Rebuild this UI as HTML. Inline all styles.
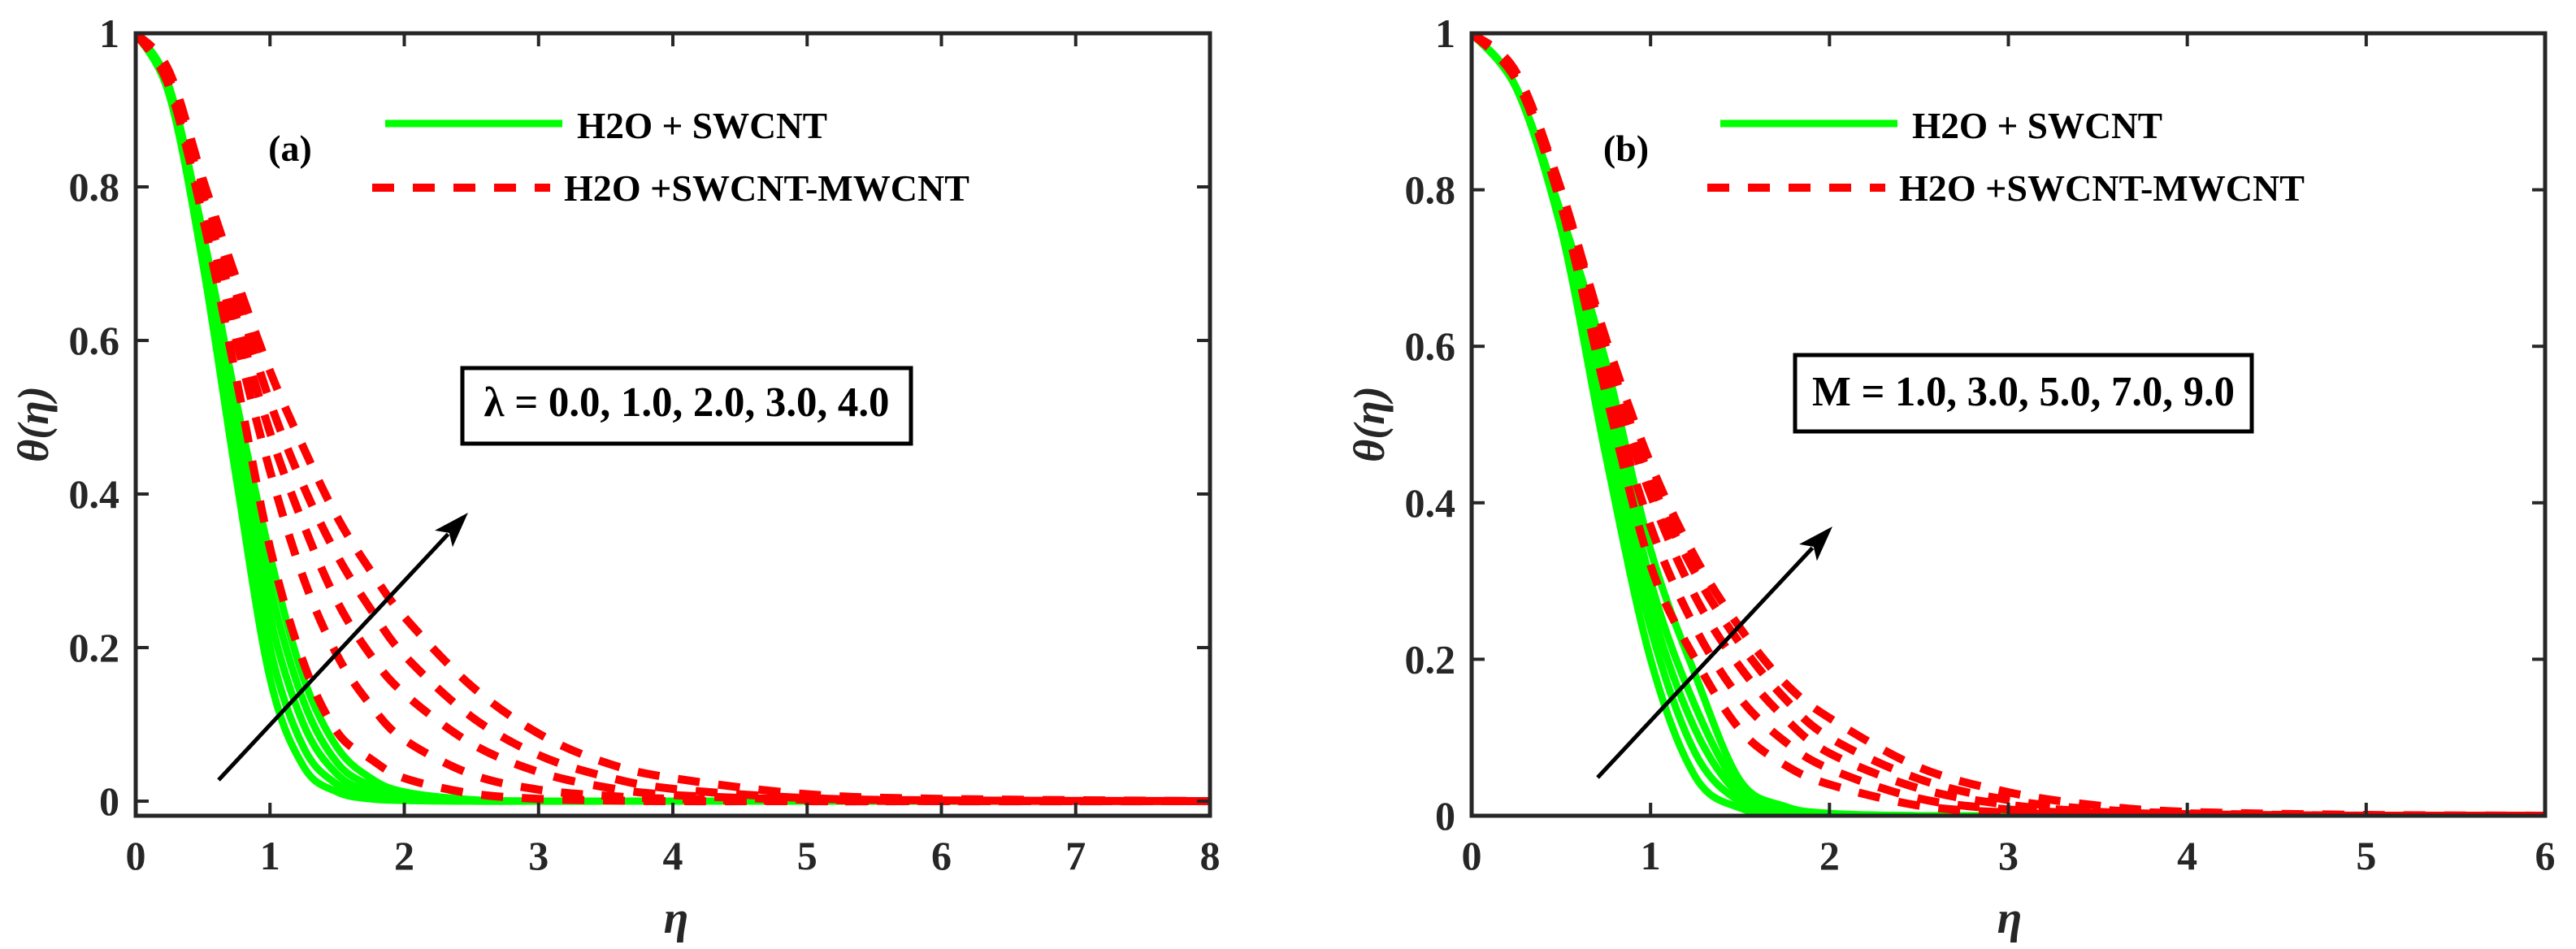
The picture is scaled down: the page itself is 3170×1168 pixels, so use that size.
<!DOCTYPE html>
<html><head><meta charset="utf-8"><style>
html,body{margin:0;padding:0;background:#fff;}
svg{display:block;}
text{font-family:"Liberation Serif","Times New Roman",Times,serif;font-weight:bold;fill:#262626;}
</style></head><body>
<svg id="fig" width="3170" height="1168" viewBox="0 0 3170 1168" xmlns="http://www.w3.org/2000/svg">
<defs>
<clipPath id="clipA"><rect x="167" y="41" width="1322" height="963"/></clipPath>
<clipPath id="clipB"><rect x="1811" y="41" width="1321" height="963"/></clipPath>
</defs>
</svg>
<script>
// ---------- data ----------
const etaGridA = [0,0.25,0.5,0.75,1,1.25,1.5,1.75,2,2.5,3,3.5,4,5,6,8];
const lambdaValues = ["0.0","1.0","2.0","3.0","4.0"];
const greenA0 = [1,0.92,0.70,0.42,0.16,0.045,0.012,0.003,0.001,0,0,0,0,0,0,0];
const greenA1 = [1,0.92,0.71,0.45,0.20,0.07,0.022,0.007,0.002,0,0,0,0,0,0,0];
const greenA2 = [1,0.93,0.72,0.47,0.24,0.10,0.035,0.012,0.004,0.001,0,0,0,0,0,0];
const greenA3 = [1,0.93,0.73,0.50,0.28,0.13,0.05,0.02,0.007,0.001,0,0,0,0,0,0];
const greenA4 = [1,0.93,0.74,0.52,0.32,0.16,0.07,0.03,0.012,0.002,0,0,0,0,0,0];
const redA0 = [1,0.93,0.76,0.55,0.33,0.18,0.09,0.055,0.03,0.01,0.003,0.001,0,0,0,0];
const redA1 = [1,0.94,0.78,0.60,0.43,0.29,0.19,0.125,0.08,0.035,0.015,0.007,0.003,0,0,0];
const redA2 = [1,0.94,0.79,0.63,0.48,0.36,0.26,0.19,0.14,0.075,0.038,0.018,0.008,0.002,0,0];
const redA3 = [1,0.95,0.80,0.66,0.52,0.41,0.32,0.25,0.19,0.11,0.06,0.032,0.016,0.004,0.001,0];
const redA4 = [1,0.95,0.81,0.68,0.56,0.46,0.37,0.30,0.24,0.15,0.088,0.05,0.03,0.009,0.003,0];

const etaGridB = [0,0.25,0.5,0.75,1,1.25,1.5,1.75,2,2.5,3,3.5,4,5,6];
const mValues = ["1.0","3.0","5.0","7.0","9.0"];
const greenB0 = [1,0.93,0.75,0.46,0.20,0.05,0.01,0.002,0,0,0,0,0,0,0];
const greenB1 = [1,0.93,0.75,0.49,0.24,0.08,0.018,0.004,0.001,0,0,0,0,0,0];
const greenB2 = [1,0.93,0.76,0.52,0.27,0.11,0.026,0.006,0.002,0,0,0,0,0,0];
const greenB3 = [1,0.93,0.76,0.55,0.30,0.14,0.035,0.009,0.002,0,0,0,0,0,0];
const greenB4 = [1,0.93,0.77,0.58,0.34,0.18,0.045,0.012,0.003,0,0,0,0,0,0];
const redB0 = [1,0.94,0.78,0.54,0.32,0.20,0.11,0.065,0.04,0.013,0.004,0.001,0,0,0];
const redB1 = [1,0.94,0.79,0.56,0.37,0.24,0.15,0.095,0.06,0.022,0.008,0.003,0.001,0,0];
const redB2 = [1,0.94,0.79,0.58,0.41,0.28,0.19,0.125,0.08,0.035,0.014,0.005,0.002,0,0];
const redB3 = [1,0.94,0.80,0.60,0.43,0.31,0.22,0.15,0.10,0.047,0.02,0.008,0.003,0,0];
const redB4 = [1,0.95,0.80,0.61,0.45,0.33,0.24,0.17,0.125,0.062,0.03,0.013,0.005,0.001,0];

const xTicksA = [0,1,2,3,4,5,6,7,8];
const xTicksB = [0,1,2,3,4,5,6];
const yTicks = [0,0.2,0.4,0.6,0.8,1];
const yTickLabels = ["0","0.2","0.4","0.6","0.8","1"];

// ---------- helpers ----------
const NS = "http://www.w3.org/2000/svg";
const svg = document.getElementById("fig");
function mk(tag, attrs, parent){
  const e = document.createElementNS(NS, tag);
  for (const k in attrs) e.setAttribute(k, attrs[k]);
  (parent||svg).appendChild(e);
  return e;
}
function smoothPath(pts){
  let d = "M" + pts[0][0].toFixed(1) + "," + pts[0][1].toFixed(1);
  for (let i=0;i<pts.length-1;i++){
    const p0 = pts[Math.max(0,i-1)], p1 = pts[i], p2 = pts[i+1], p3 = pts[Math.min(pts.length-1,i+2)];
    const c1x = p1[0]+(p2[0]-p0[0])/6, c1y = p1[1]+(p2[1]-p0[1])/6;
    const c2x = p2[0]-(p3[0]-p1[0])/6, c2y = p2[1]-(p3[1]-p1[1])/6;
    d += " C"+c1x.toFixed(1)+","+c1y.toFixed(1)+" "+c2x.toFixed(1)+","+c2y.toFixed(1)+" "+p2[0].toFixed(1)+","+p2[1].toFixed(1);
  }
  return d;
}

function panel(cfg){
  const L = cfg.left, R = cfg.right, T = 41, B = 1004;
  const xs = v => L + (v - cfg.xmin)/(cfg.xmax - cfg.xmin)*(R-L);
  const ys = v => B - (v - cfg.ymin)/(cfg.ymax - cfg.ymin)*(B-T);
  const g = mk("g", {});
  
  

  const plot = mk("g", {"clip-path": "url(#"+cfg.clip+")"}, g);
  
  
  cfg.green.forEach((arr, i) => {
    const p = mk("path", {d: smoothPath(cfg.grid.map((e,j)=>[xs(e), ys(arr[j])])), fill:"none", stroke:"#00ff00", "stroke-width":9, "stroke-linejoin":"round"}, plot);
    
    
  });
  cfg.red.forEach((arr, i) => {
    const p = mk("path", {d: smoothPath(cfg.grid.map((e,j)=>[xs(e), ys(arr[j])])), fill:"none", stroke:"#ff0000", "stroke-width":10, "stroke-dasharray":"27 23"}, plot);
    
    
  });

  const box = mk("rect", {x:L, y:T, width:R-L, height:B-T, fill:"none", stroke:"#262626", "stroke-width":5}, g);
  
  

  cfg.xticks.forEach(t => {
    const x = xs(t);
    mk("line", {x1:x, y1:B, x2:x, y2:B-16, stroke:"#262626", "stroke-width":4}, g);
    mk("line", {x1:x, y1:T, x2:x, y2:T+16, stroke:"#262626", "stroke-width":4}, g);
    const tx = mk("text", {x:x, y:1070, "text-anchor":"middle", "font-size":50}, g);
    tx.textContent = String(t);
    
    
  });
  yTicks.forEach((t, i) => {
    const y = ys(t);
    mk("line", {x1:L, y1:y, x2:L+16, y2:y, stroke:"#262626", "stroke-width":4}, g);
    mk("line", {x1:R, y1:y, x2:R-16, y2:y, stroke:"#262626", "stroke-width":4}, g);
    const tx = mk("text", {x:L-20, y:y+17, "text-anchor":"end", "font-size":50}, g);
    tx.textContent = yTickLabels[i];
    
    
  });

  const xt = mk("text", {x:cfg.etaX, y:1148, "text-anchor":"middle", "font-size":56, "font-style":"italic"}, g);
  xt.textContent = "η";
  
  
  const yt = mk("text", {x:0, y:0, "text-anchor":"middle", "font-size":54, "font-style":"italic", transform:"translate("+(L-108)+",522) rotate(-90)"}, g);
  yt.textContent = "θ(η)";
  
  

  const pl = mk("text", {x:cfg.labelX, y:198, "text-anchor":"middle", "font-size":46, style:"fill:#000"}, g);
  pl.textContent = cfg.label;
  
  

  const lg = mk("g", {}, g);
  
  
  const l1 = mk("line", {x1:cfg.leg1[0], y1:152, x2:cfg.leg1[1], y2:152, stroke:"#00ff00", "stroke-width":9}, lg);
  
  
  const t1 = mk("text", {x:cfg.leg1[2], y:170, "font-size":46, textLength:308, lengthAdjust:"spacingAndGlyphs", style:"fill:#000"}, lg);
  t1.textContent = "H2O + SWCNT";
  
  
  const l2 = mk("line", {x1:cfg.leg2[0], y1:231, x2:cfg.leg2[1], y2:231, stroke:"#ff0000", "stroke-width":10, "stroke-dasharray":"27 23"}, lg);
  
  
  const t2 = mk("text", {x:cfg.leg2[2], y:247, "font-size":46, textLength:499, lengthAdjust:"spacingAndGlyphs", style:"fill:#000"}, lg);
  t2.textContent = "H2O +SWCNT-MWCNT";
  
  

  const bx = mk("rect", {x:cfg.box[0], y:cfg.box[1], width:cfg.box[2], height:cfg.box[3], fill:"#fff", stroke:"#000", "stroke-width":5}, g);
  
  
  const bt = mk("text", {x:cfg.box[0]+cfg.box[2]/2, y:cfg.boxBase, "text-anchor":"middle", "font-size":52, textLength:cfg.boxTextLen, lengthAdjust:"spacingAndGlyphs", style:"fill:#000"}, g);
  bt.textContent = cfg.boxText;
  
  

  const [x1,y1,x2,y2] = cfg.arrow;
  const ang = Math.atan2(y2-y1, x2-x1), hl = 44, hw = 15;
  const bxp = x2 - hl*Math.cos(ang), byp = y2 - hl*Math.sin(ang);
  const ar = mk("g", {}, g);
  
  
  mk("line", {x1:x1, y1:y1, x2:bxp+8*Math.cos(ang), y2:byp+8*Math.sin(ang), stroke:"#000", "stroke-width":5}, ar);
  const px = -Math.sin(ang), py = Math.cos(ang);
  mk("polygon", {points: x2+","+y2+" "+(bxp+hw*px)+","+(byp+hw*py)+" "+(bxp+10*Math.cos(ang))+","+(byp+10*Math.sin(ang))+" "+(bxp-hw*px)+","+(byp-hw*py), fill:"#000"}, ar);
}

panel({name:"panel-a-lambda", left:167, right:1489, xmin:0, xmax:8, ymin:-0.019, ymax:1, clip:"clipA",
  grid:etaGridA, green:[greenA0,greenA1,greenA2,greenA3,greenA4], red:[redA0,redA1,redA2,redA3,redA4],
  paramName:"lambda", params:lambdaValues, xticks:xTicksA, etaX:832, label:"(a)", labelX:357,
  leg1:[474,692,710], leg2:[458,677,694], box:[569,453,552,93], boxBase:512, boxTextLen:499,
  boxText:"λ = 0.0, 1.0, 2.0, 3.0, 4.0", arrow:[269,960,576,631]});
panel({name:"panel-b-magnetic", left:1811, right:3132, xmin:0, xmax:6, ymin:0, ymax:1, clip:"clipB",
  grid:etaGridB, green:[greenB0,greenB1,greenB2,greenB3,greenB4], red:[redB0,redB1,redB2,redB3,redB4],
  paramName:"m", params:mValues, xticks:xTicksB, etaX:2473, label:"(b)", labelX:2001,
  leg1:[2117,2335,2353], leg2:[2101,2320,2337], box:[2209,437,562,94], boxBase:499, boxTextLen:520,
  boxText:"M = 1.0, 3.0, 5.0, 7.0, 9.0", arrow:[1966,957,2255,648]});
</script>
</body></html>
